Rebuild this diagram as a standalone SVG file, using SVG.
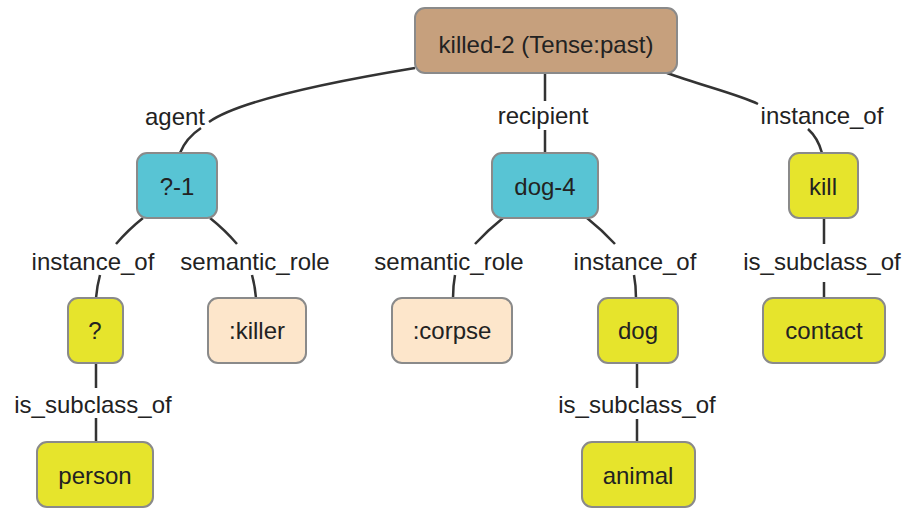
<svg xmlns="http://www.w3.org/2000/svg" width="909" height="514" viewBox="0 0 909 514">
<style>
.n rect{stroke:#8a8a8a;stroke-width:2}
.root rect{fill:#c6a07d}
.var rect{fill:#58c4d4}
.con rect{fill:#e6e42c}
.role rect{fill:#fde6cb}
text{font-family:"Liberation Sans",Arial,sans-serif;font-size:24px;fill:#222;text-anchor:middle}
.e path{fill:none;stroke:#333;stroke-width:2.5}
</style>
<rect width="909" height="514" fill="#fff"/>
<g id="connectors" class="e">
<path d="M415 68 C330 82 240 100 209 122"/>
<path d="M201 128 Q186 138 180 153"/>
<path d="M545 73 V101 M545 130 V153"/>
<path d="M667 73 C700 85 740 95 758 104"/>
<path d="M808 129 Q818 138 822 153"/>
<path d="M824 218 V244 M824 282 V298"/>
<path d="M143 218 Q128 230 116 244 M100 275 Q97 286 96 298"/>
<path d="M210 218 Q225 230 237 244 M252 275 Q255 286 256 298"/>
<path d="M96 363 V388 M96 418 V442"/>
<path d="M503 218 Q488 230 475 244 M455 275 Q453 286 453 298"/>
<path d="M587 218 Q602 230 615 244 M634 275 Q636 286 636 298"/>
<path d="M637 363 V388 M637 419 V442"/>
</g>
<g id="labels">
<text x="175" y="125">agent</text>
<text x="543" y="124">recipient</text>
<text x="822" y="124">instance_of</text>
<text x="93" y="270">instance_of</text>
<text x="255" y="270">semantic_role</text>
<text x="449" y="270">semantic_role</text>
<text x="635" y="270">instance_of</text>
<text x="822" y="270">is_subclass_of</text>
<text x="93" y="413">is_subclass_of</text>
<text x="637" y="413">is_subclass_of</text>
</g>
<g id="killed-2" class="n root"><rect x="415" y="8" width="262" height="65" rx="10"/><text x="546" y="53">killed-2 (Tense:past)</text></g>
<g id="q-1" class="n var"><rect x="137" y="153" width="80" height="65" rx="10"/><text x="177" y="195">?-1</text></g>
<g id="dog-4" class="n var"><rect x="492" y="153" width="106" height="65" rx="10"/><text x="545" y="195">dog-4</text></g>
<g id="kill" class="n con"><rect x="789" y="153" width="69" height="65" rx="10"/><text x="823" y="195">kill</text></g>
<g id="q" class="n con"><rect x="68" y="298" width="55" height="65" rx="10"/><text x="95" y="339">?</text></g>
<g id="killer" class="n role"><rect x="208" y="298" width="98" height="65" rx="10"/><text x="257" y="339">:killer</text></g>
<g id="corpse" class="n role"><rect x="392" y="298" width="120" height="65" rx="10"/><text x="452" y="339">:corpse</text></g>
<g id="dog" class="n con"><rect x="598" y="298" width="80" height="65" rx="10"/><text x="638" y="339">dog</text></g>
<g id="contact" class="n con"><rect x="763" y="298" width="122" height="65" rx="10"/><text x="824" y="339">contact</text></g>
<g id="person" class="n con"><rect x="37" y="442" width="116" height="65" rx="10"/><text x="95" y="484">person</text></g>
<g id="animal" class="n con"><rect x="582" y="442" width="113" height="65" rx="10"/><text x="638" y="484">animal</text></g>
</svg>
